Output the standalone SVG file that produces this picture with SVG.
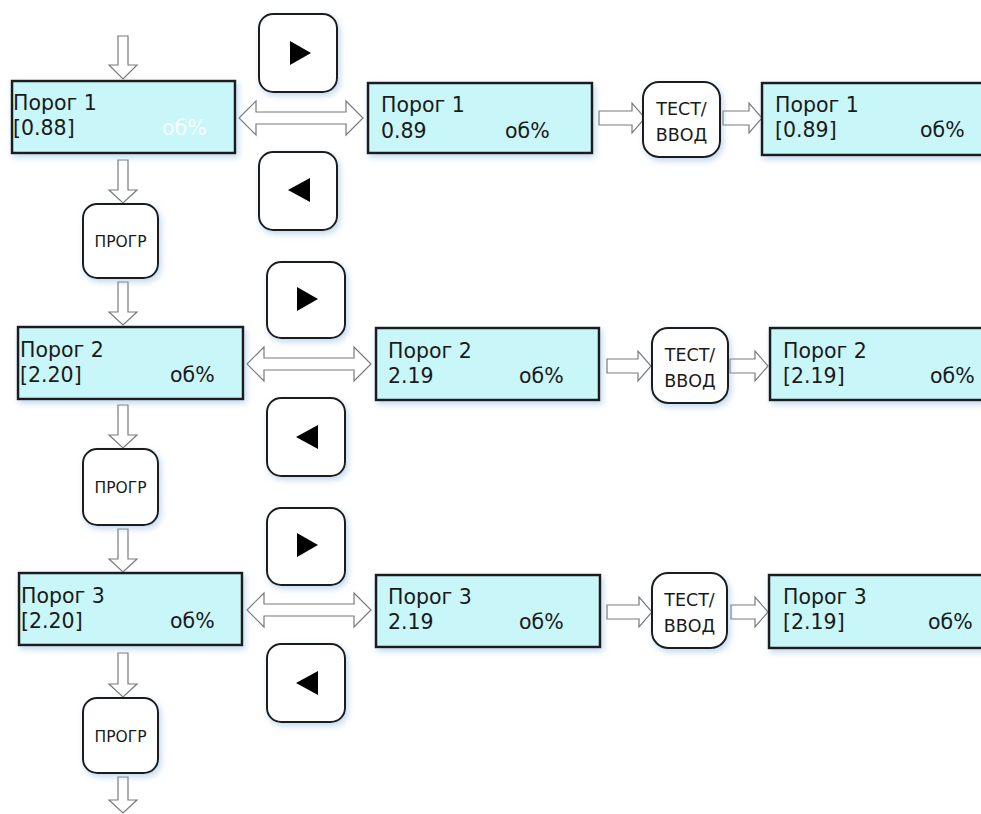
<svg xmlns="http://www.w3.org/2000/svg" width="981" height="814" viewBox="0 0 981 814">
<defs>
<filter id="sh" x="-20%" y="-20%" width="140%" height="150%">
<feDropShadow dx="2" dy="3" stdDeviation="3" flood-color="#8fb8e0" flood-opacity="0.55"/>
</filter>
<style>
.box{fill:#c9f6f9;stroke:#1c1c1c;stroke-width:2.5;filter:url(#sh)}
.btn{fill:#ffffff;stroke:#1c1c1c;stroke-width:2;filter:url(#sh)}
.arr{fill:#ffffff;stroke:#7a7a7a;stroke-width:1.2;stroke-linejoin:miter}
.tri{fill:#000000}
.t{font-family:"DejaVu Sans","Noto Sans",sans-serif;font-size:20.5px;fill:#1a1a1a}
.tw{font-family:"DejaVu Sans","Noto Sans",sans-serif;font-size:20.5px;fill:#ffffff;fill-opacity:0.85}
.bt{font-family:"DejaVu Sans","Noto Sans",sans-serif;font-size:17.5px;fill:#1a1a1a;text-anchor:middle}
.pt{font-family:"DejaVu Sans","Noto Sans",sans-serif;font-size:15.5px;fill:#1a1a1a;text-anchor:middle}
</style>
</defs>
<rect width="981" height="814" fill="#ffffff"/>

<g id="connectors">
<path class="arr" d="M118,36 H128 V65 H137 L123,79 L109,65 H118 Z"/>
<path class="arr" d="M118,160 H128 V190 H137 L123,203 L109,190 H118 Z"/>
<path class="arr" d="M118,282 H128 V312 H137 L123,325 L109,312 H118 Z"/>
<path class="arr" d="M118,405 H128 V435 H137 L123,448 L109,435 H118 Z"/>
<path class="arr" d="M118,529 H128 V559 H137 L123,572 L109,559 H118 Z"/>
<path class="arr" d="M118,653 H128 V684 H137 L123,697 L109,684 H118 Z"/>
<path class="arr" d="M118,777 H128 V800 H137 L123,813 L109,800 H118 Z"/>

<path class="arr" d="M239,118 L256,101 V112 H346 V101 L363,118 L346,135 V124 H256 V135 Z"/>
<path class="arr" d="M247,364 L264,347 V358 H354 V347 L371,364 L354,381 V370 H264 V381 Z"/>
<path class="arr" d="M247,610 L264,593 V604 H354 V593 L371,610 L354,627 V616 H264 V627 Z"/>

<path class="arr" d="M599,111 H632 V103 L645,118 L632,133 V125 H599 Z"/>
<path class="arr" d="M723,111 H749 V103 L762,118 L749,133 V125 H723 Z"/>
<path class="arr" d="M607,359 H638 V351 L651,366 L638,381 V373 H607 Z"/>
<path class="arr" d="M730,359 H755 V351 L768,366 L755,381 V373 H730 Z"/>
<path class="arr" d="M607,605 H639 V597 L652,612 L639,627 V619 H607 Z"/>
<path class="arr" d="M731,605 H755 V597 L768,612 L755,627 V619 H731 Z"/>
</g>

<g id="p1_main">
<rect class="box" x="12" y="81" width="223" height="72"/>
<text class="t" x="13" y="110">Порог 1</text>
<text class="t" x="13" y="135">[0.88]</text>
<text class="tw" x="162" y="135">об%</text>
</g>
<g id="p1_right">
<rect class="btn" x="259" y="14" width="78" height="78" rx="14"/>
<path class="tri" d="M290,41 L311,53 L290,65 Z"/>
</g>
<g id="p1_left">
<rect class="btn" x="259" y="152" width="78" height="78" rx="14"/>
<path class="tri" d="M310,178 L288,190 L310,202 Z"/>
</g>
<g id="p1_edit">
<rect class="box" x="368" y="83" width="224" height="70"/>
<text class="t" x="381" y="112">Порог 1</text>
<text class="t" x="381" y="138">0.89</text>
<text class="t" x="505" y="138">об%</text>
</g>
<g id="p1_test">
<rect class="btn" x="643" y="82" width="77" height="75" rx="16"/>
<text class="bt" x="681.5" y="115">ТЕСТ/</text>
<text class="bt" x="681.5" y="141">ВВОД</text>
</g>
<g id="p1_saved">
<rect class="box" x="762" y="83" width="240" height="72"/>
<text class="t" x="775" y="112">Порог 1</text>
<text class="t" x="775" y="137">[0.89]</text>
<text class="t" x="920" y="137">об%</text>
</g>
<g id="prog1">
<rect class="btn" x="83" y="204" width="75" height="74" rx="14"/>
<text class="pt" x="120.5" y="247">ПРОГР</text>
</g>

<g id="p2_main">
<rect class="box" x="18" y="327" width="225" height="72"/>
<text class="t" x="20" y="357">Порог 2</text>
<text class="t" x="20" y="382">[2.20]</text>
<text class="t" x="170" y="382">об%</text>
</g>
<g id="p2_right">
<rect class="btn" x="267" y="262" width="78" height="76" rx="14"/>
<path class="tri" d="M297,287 L318,299 L297,311 Z"/>
</g>
<g id="p2_left">
<rect class="btn" x="267" y="398" width="78" height="78" rx="14"/>
<path class="tri" d="M318,425 L296,437 L318,449 Z"/>
</g>
<g id="p2_edit">
<rect class="box" x="376" y="328" width="223" height="72"/>
<text class="t" x="388" y="358">Порог 2</text>
<text class="t" x="388" y="383">2.19</text>
<text class="t" x="519" y="383">об%</text>
</g>
<g id="p2_test">
<rect class="btn" x="652" y="328" width="76" height="75" rx="16"/>
<text class="bt" x="690" y="361">ТЕСТ/</text>
<text class="bt" x="690" y="387">ВВОД</text>
</g>
<g id="p2_saved">
<rect class="box" x="770" y="328" width="240" height="72"/>
<text class="t" x="783" y="358">Порог 2</text>
<text class="t" x="783" y="383">[2.19]</text>
<text class="t" x="930" y="383">об%</text>
</g>
<g id="prog2">
<rect class="btn" x="83" y="449" width="75" height="76" rx="14"/>
<text class="pt" x="120.5" y="493">ПРОГР</text>
</g>

<g id="p3_main">
<rect class="box" x="19" y="573" width="223" height="72"/>
<text class="t" x="21" y="603">Порог 3</text>
<text class="t" x="21" y="628">[2.20]</text>
<text class="t" x="170" y="628">об%</text>
</g>
<g id="p3_right">
<rect class="btn" x="267" y="508" width="78" height="77" rx="14"/>
<path class="tri" d="M297,533 L318,545 L297,557 Z"/>
</g>
<g id="p3_left">
<rect class="btn" x="267" y="644" width="78" height="78" rx="14"/>
<path class="tri" d="M318,671 L296,683 L318,695 Z"/>
</g>
<g id="p3_edit">
<rect class="box" x="376" y="575" width="224" height="72"/>
<text class="t" x="388" y="604">Порог 3</text>
<text class="t" x="388" y="629">2.19</text>
<text class="t" x="519" y="629">об%</text>
</g>
<g id="p3_test">
<rect class="btn" x="652" y="573" width="75" height="75" rx="16"/>
<text class="bt" x="689.5" y="606">ТЕСТ/</text>
<text class="bt" x="689.5" y="632">ВВОД</text>
</g>
<g id="p3_saved">
<rect class="box" x="769" y="575" width="240" height="73"/>
<text class="t" x="783" y="604">Порог 3</text>
<text class="t" x="783" y="629">[2.19]</text>
<text class="t" x="928" y="629">об%</text>
</g>
<g id="prog3">
<rect class="btn" x="83" y="698" width="75" height="75" rx="14"/>
<text class="pt" x="120.5" y="742">ПРОГР</text>
</g>
</svg>
